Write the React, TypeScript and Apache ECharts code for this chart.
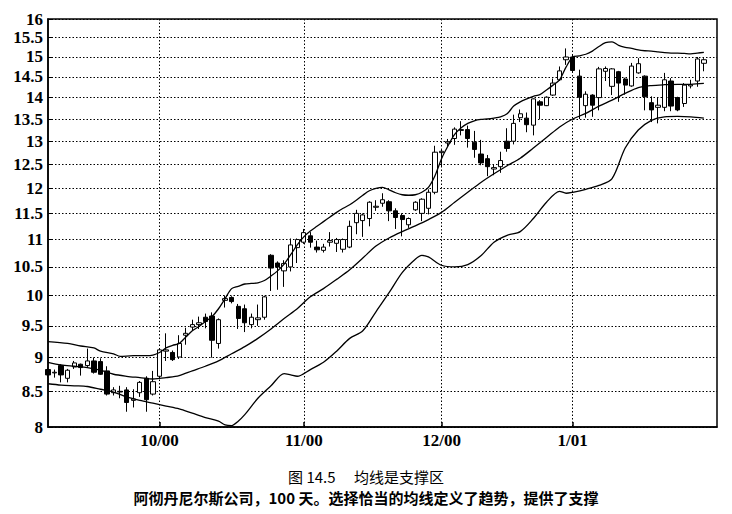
import React, { useEffect, useRef } from "react";
import * as echarts from "echarts";

// Trading days shown (Sep 2000 - Jan 2001, plus two empty slots in Feb)
const sepDays = [7, 8, 11, 12, 13, 14, 15, 18, 19, 20, 21, 22, 25, 26, 27, 28, 29];
const octDays = [2, 3, 4, 5, 6, 9, 10, 11, 12, 13, 16, 17, 18, 19, 20, 23, 24, 25, 26, 27, 30, 31];
const novDays = [1, 2, 3, 6, 7, 8, 9, 10, 13, 14, 15, 16, 17, 20, 21, 22, 24, 27, 28, 29, 30];
const decDays = [1, 4, 5, 6, 7, 8, 11, 12, 13, 14, 15, 18, 19, 20, 21, 22, 26, 27, 28, 29];
const janDays = [2, 3, 4, 5, 8, 9, 10, 11, 12, 16, 17, 18, 19, 22, 23, 24, 25, 26, 29, 30, 31];
const febDays = [1, 2];

const monthLabels: Record<string, string> = {
  "2000-10-02": "10/00",
  "2000-11-01": "11/00",
  "2000-12-01": "12/00",
  "2001-01-02": "1/01",
};

const yTicks = [8, 8.5, 9, 9.5, 10, 10.5, 11, 11.5, 12, 12.5, 13, 13.5, 14, 14.5, 15, 15.5, 16];

const opens = [
  8.82, 8.77, 8.88, 8.69, 8.86, 8.9, 8.88, 8.95, 8.94, 8.8,
  8.48, 8.5, 8.52, 8.37, 8.48, 8.69, 8.46, 8.72, 9.1, 9.08,
  9.01, 9.35, 9.48, 9.52, 9.64, 9.66, 9.22, 9.92, 9.97, 9.82,
  9.78, 9.52, 9.6, 9.64, 10.71, 10.57, 10.43, 10.5, 10.85, 10.95,
  11.07, 10.86, 10.8, 10.95, 10.93, 10.82, 10.86, 11.32, 11.36, 11.4,
  11.62, 11.7, 11.73, 11.55, 11.46, 11.28, 11.57, 11.5, 11.6, 11.92,
  12.75, 12.96, 13.06, 13.24, 13.26, 12.98, 12.72, 12.62, 12.4, 12.45,
  13.0, 13.0, 13.53, 13.52, 13.36, 13.9, 13.81, 14.06, 14.43, 14.93,
  15.0, 14.52, 13.81, 14.06, 14.0, 14.64, 14.27, 14.63, 14.45, 14.28,
  14.6, 14.52, 13.88, 13.77, 13.77, 14.4, 14.0, 13.86, 14.28, 14.4,
  14.84,
];
const closes = [
  8.74, 8.78, 8.74, 8.81, 8.92, 8.85, 8.95, 8.78, 8.75, 8.46,
  8.52, 8.49, 8.34, 8.39, 8.63, 8.38, 8.64, 9.12, 9.12, 8.97,
  9.22, 9.38, 9.52, 9.55, 9.57, 9.27, 9.6, 9.95, 9.9, 9.62,
  9.55, 9.64, 9.63, 9.98, 10.48, 10.5, 10.56, 10.9, 11.0, 11.13,
  10.95, 10.81, 10.86, 10.98, 11.0, 11.0, 11.25, 11.5, 11.47, 11.72,
  11.64, 11.77, 11.55, 11.42, 11.38, 11.4, 11.72, 11.78, 11.92, 12.76,
  12.78, 12.99, 13.27, 13.26, 13.06, 12.82, 12.53, 12.45, 12.43, 12.58,
  12.84, 13.4, 13.62, 13.37, 13.97, 13.82, 14.01, 14.35, 14.65, 15.0,
  14.66, 14.01, 14.08, 13.82, 14.7, 14.71, 14.7, 14.35, 14.3, 14.77,
  14.83, 14.02, 13.71, 13.82, 14.43, 13.8, 13.71, 14.3, 14.31, 14.95,
  14.93,
];
const lows = [
  8.7, 8.7, 8.63, 8.63, 8.83, 8.73, 8.86, 8.76, 8.74, 8.44,
  8.44, 8.4, 8.21, 8.27, 8.42, 8.21, 8.44, 8.68, 8.95, 8.95,
  8.98, 9.2, 9.43, 9.45, 9.46, 9.0, 9.14, 9.8, 9.87, 9.45,
  9.4, 9.46, 9.5, 9.6, 10.08, 10.1, 10.15, 10.42, 10.57, 10.92,
  10.85, 10.76, 10.76, 10.87, 10.77, 10.76, 10.84, 11.1, 11.05, 11.25,
  11.55, 11.63, 11.35, 11.2, 11.06, 11.22, 11.55, 11.35, 11.48, 11.88,
  12.45, 12.88, 12.92, 13.13, 12.86, 12.64, 12.48, 12.25, 12.27, 12.32,
  12.77, 12.93, 13.43, 13.2, 13.13, 13.5, 13.8, 14.04, 14.4, 14.8,
  14.6, 13.5, 13.53, 13.55, 13.7, 14.4, 14.06, 13.9, 14.07, 14.26,
  14.58, 13.7, 13.43, 13.4, 13.68, 13.68, 13.68, 13.78, 14.22, 14.26,
  14.64,
];
const highs = [
  8.85, 8.82, 8.9, 8.83, 8.95, 8.91, 9.14, 9.0, 8.99, 8.87,
  8.56, 8.58, 8.56, 8.53, 8.65, 8.72, 8.8, 9.14, 9.38, 9.11,
  9.35, 9.47, 9.6, 9.65, 9.7, 9.72, 9.62, 10.0, 9.99, 9.86,
  9.85, 9.7, 9.85, 10.0, 10.73, 10.6, 10.62, 11.02, 11.02, 11.2,
  11.14, 10.98, 10.92, 11.14, 11.03, 11.02, 11.36, 11.57, 11.5, 11.74,
  11.76, 11.9, 11.76, 11.6, 11.5, 11.42, 11.74, 11.8, 11.98, 12.9,
  12.82, 13.05, 13.31, 13.45, 13.35, 13.23, 13.03, 12.7, 12.5, 12.77,
  13.29, 13.6, 13.72, 13.65, 13.98, 13.94, 14.03, 14.46, 14.76, 15.22,
  15.05, 14.68, 14.15, 14.08, 14.75, 14.76, 14.72, 14.65, 14.48, 14.85,
  14.97, 14.54, 14.03, 14.0, 14.6, 14.47, 14.02, 14.35, 14.43, 15.0,
  14.97,
];

// Band lines: [day index, price]
const upperBand: [number, number][] = [
  [0, 9.25], [3, 9.22], [5, 9.18], [7, 9.15], [8, 9.1], [10, 9.06], [11, 9.02], [13, 9.03],
  [15, 9.03], [16, 9.04], [17, 9.08], [18, 9.15], [19, 9.19], [20, 9.22], [21, 9.32], [22, 9.42],
  [23, 9.49], [24, 9.57], [25, 9.65], [26, 9.78], [27, 9.95], [28, 10.12], [29, 10.16], [30, 10.2],
  [31, 10.21], [32, 10.22], [33, 10.26], [34, 10.34], [35, 10.43], [36, 10.55], [37, 10.72],
  [38, 10.9], [39, 11.05], [40, 11.16], [41, 11.25], [42, 11.34], [43, 11.43], [44, 11.52],
  [45, 11.6], [46, 11.67], [47, 11.76], [48, 11.86], [49, 11.95], [50, 12.0], [51, 12.02],
  [52, 11.97], [53, 11.91], [54, 11.87], [55, 11.86], [56, 11.87], [57, 11.92], [58, 12.02],
  [59, 12.26], [60, 12.62], [61, 12.9], [62, 13.15], [63, 13.3], [64, 13.4], [65, 13.46],
  [66, 13.49], [67, 13.5], [68, 13.52], [69, 13.55], [70, 13.62], [71, 13.8], [72, 13.9],
  [73, 13.97], [74, 14.03], [75, 14.07], [76, 14.18], [77, 14.3], [78, 14.43], [79, 14.75],
  [80, 15.0], [81, 15.03], [82, 15.07], [83, 15.15], [84, 15.27], [85, 15.37], [86, 15.39],
  [87, 15.3], [88, 15.25], [89, 15.22], [90, 15.18], [91, 15.16], [92, 15.15], [93, 15.13],
  [94, 15.11], [95, 15.1], [96, 15.1], [97, 15.09], [98, 15.08], [99, 15.1], [100, 15.12],
];
const middleLine: [number, number][] = [
  [0, 8.93], [2, 8.89], [4, 8.87], [6, 8.85], [8, 8.81], [10, 8.75], [12, 8.72], [14, 8.7],
  [16, 8.68], [17, 8.69], [18, 8.7], [20, 8.73], [22, 8.8], [24, 8.87], [26, 8.95], [28, 9.06],
  [30, 9.17], [32, 9.3], [34, 9.45], [36, 9.62], [38, 9.78], [40, 9.98], [42, 10.12],
  [44, 10.28], [46, 10.45], [48, 10.66], [50, 10.88], [52, 11.03], [54, 11.15], [56, 11.26],
  [58, 11.38], [60, 11.52], [62, 11.72], [64, 11.92], [66, 12.12], [68, 12.3], [70, 12.47],
  [72, 12.63], [74, 12.85], [76, 13.08], [78, 13.32], [80, 13.5], [82, 13.63], [84, 13.8],
  [86, 13.94], [88, 14.1], [90, 14.24], [92, 14.29], [94, 14.31], [96, 14.32], [98, 14.32],
  [100, 14.34],
];
const lowerBand: [number, number][] = [
  [0, 8.61], [2, 8.59], [4, 8.58], [6, 8.57], [8, 8.53], [10, 8.49], [12, 8.42], [14, 8.37],
  [16, 8.33], [18, 8.29], [20, 8.25], [22, 8.19], [24, 8.13], [26, 8.08], [27, 8.03],
  [28, 8.02], [29, 8.08], [30, 8.17], [32, 8.4], [34, 8.58], [36, 8.76], [37, 8.74],
  [38, 8.72], [40, 8.82], [42, 8.93], [44, 9.1], [46, 9.3], [48, 9.42], [50, 9.73],
  [52, 10.05], [54, 10.4], [56, 10.64], [57, 10.71], [58, 10.68], [60, 10.53], [62, 10.5],
  [64, 10.54], [66, 10.7], [68, 10.95], [70, 11.08], [72, 11.15], [74, 11.4], [76, 11.72],
  [78, 11.94], [79, 11.9], [80, 11.92], [82, 11.98], [84, 12.06], [86, 12.2], [88, 12.85],
  [90, 13.25], [92, 13.47], [94, 13.55], [96, 13.56], [98, 13.55], [100, 13.52],
];

const pad = (n: number) => (n < 10 ? "0" + n : String(n));
const categories: string[] = [
  ...sepDays.map((d) => `2000-09-${pad(d)}`),
  ...octDays.map((d) => `2000-10-${pad(d)}`),
  ...novDays.map((d) => `2000-11-${pad(d)}`),
  ...decDays.map((d) => `2000-12-${pad(d)}`),
  ...janDays.map((d) => `2001-01-${pad(d)}`),
  ...febDays.map((d) => `2001-02-${pad(d)}`),
];

const SERIF = "Liberation Serif";
const CJK = "Noto Sans CJK SC";

export default function App() {
  const ref = useRef<HTMLDivElement>(null);

  useEffect(() => {
    if (!ref.current) return;
    const chart = echarts.init(ref.current, null, { renderer: "svg" });
    const ln = Math.log;
    const candleData = opens.map((o, i) => [ln(o), ln(closes[i]), ln(lows[i]), ln(highs[i])]);
    const toLine = (pts: [number, number][]) => pts.map(([i, v]) => [i, ln(v)]);
    const isMonthStart = (idx: number) => monthLabels[categories[idx]] !== undefined;
    const lineStyle = { color: "#000", width: 1.3 };
    const labelText = {
      fontFamily: SERIF,
      fontSize: 17,
      fontWeight: "bold" as const,
      color: "#000",
    };

    chart.setOption({
      animation: false,
      backgroundColor: "#fff",
      textStyle: { fontFamily: SERIF },
      title: [
        {
          text: "图 14.5　 均线是支撑区",
          left: "center",
          top: 467,
          padding: 0,
          textStyle: { fontFamily: CJK, fontSize: 15, fontWeight: "normal", color: "#000", lineHeight: 18 },
        },
        {
          text: "阿彻丹尼尔斯公司，100 天。选择恰当的均线定义了趋势，提供了支撑",
          left: "center",
          top: 488,
          padding: 0,
          textStyle: { fontFamily: CJK, fontSize: 15, fontWeight: "bold", color: "#000", lineHeight: 18 },
        },
      ],
      grid: {
        left: 48,
        right: 15,
        top: 19,
        bottom: 87,
        show: true,
        borderColor: "#000",
        borderWidth: 1.5,
      },
      xAxis: {
        type: "category",
        data: categories,
        boundaryGap: false,
        axisLine: { show: true, lineStyle: { color: "#000", width: 1.5 } },
        axisTick: {
          show: true,
          inside: true,
          length: 5,
          interval: (idx: number) => isMonthStart(idx),
          lineStyle: { color: "#000", width: 1.5 },
        },
        axisLabel: {
          ...labelText,
          interval: (idx: number) => isMonthStart(idx),
          formatter: (v: string) => monthLabels[v] || "",
          margin: 5,
        },
        splitLine: {
          show: true,
          interval: (idx: number) => isMonthStart(idx),
          lineStyle: { color: "#000", width: 1, type: [1.5, 2] },
        },
      },
      yAxis: {
        type: "value",
        min: ln(8),
        max: ln(16),
        axisLine: { show: true, lineStyle: { color: "#000", width: 1.5 } },
        axisTick: {
          show: true,
          inside: true,
          length: 4,
          customValues: yTicks.map((v) => ln(v)),
          lineStyle: { color: "#000" },
        },
        axisLabel: {
          ...labelText,
          customValues: yTicks.map((v) => ln(v)),
          formatter: (v: number) => String(Math.round(Math.exp(v) * 2) / 2),
          margin: 5,
        },
        splitLine: {
          show: true,
          lineStyle: { color: "#000", width: 1, type: [1.5, 2] },
        },
      },
      series: [
        {
          type: "candlestick",
          data: candleData,
          barWidth: 4.8,
          itemStyle: {
            color: "#fff",
            color0: "#000",
            borderColor: "#000",
            borderColor0: "#000",
            borderWidth: 1,
          },
        },
        { type: "line", data: toLine(upperBand), showSymbol: false, smooth: 0.3, lineStyle, connectNulls: true },
        { type: "line", data: toLine(middleLine), showSymbol: false, smooth: 0.3, lineStyle, connectNulls: true },
        { type: "line", data: toLine(lowerBand), showSymbol: false, smooth: 0.3, lineStyle, connectNulls: true },
      ],
    });

    return () => chart.dispose();
  }, []);

  return (
    <div
      ref={ref}
      style={{ position: "fixed", left: 0, top: 0, width: 732, height: 514, background: "#fff" }}
    />
  );
}
